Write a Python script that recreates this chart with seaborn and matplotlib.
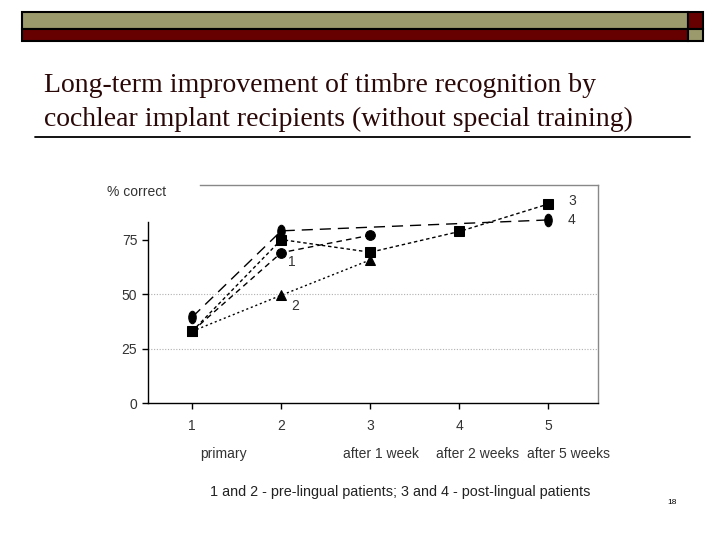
import matplotlib
matplotlib.use('Agg')
import matplotlib.pyplot as plt
import matplotlib.transforms as mtransforms
from matplotlib.patches import Rectangle
from matplotlib.path import Path
import seaborn as sns

# 시점 (측정 회차)
x_ticks = [1, 2, 3, 4, 5]
stage_labels = ['primary', 'after 1 week', 'after 2 weeks', 'after 5 weeks']
stage_pos = [1.35, 3.12, 4.2, 5.23]

# 환자별 정답률 (% correct)
p1_x = [1, 2, 3]
p1_y = [33, 69, 77]
p2_x = [1, 2, 3]
p2_y = [33, 49.5, 65.7]
p3_x = [1, 2, 3, 4, 5]
p3_y = [33, 75, 69.2, 78.7, 91.3]
p4_x = [1, 2, 5]
p4_y = [39.5, 79, 84]
patient_names = ['1', '2', '3', '4']

sns.set_style('white')
plt.rcParams['font.family'] = ['Liberation Sans', 'DejaVu Sans']

fig = plt.figure(figsize=(7.2, 5.4), dpi=100)

# 슬라이드 상단 장식 막대
W, H = 720.0, 540.0
def box(x0, y0, x1, y1, color):
    fig.patches.append(Rectangle((x0 / W, 1 - y1 / H), (x1 - x0) / W, (y1 - y0) / H,
                                 transform=fig.transFigure, facecolor=color,
                                 edgecolor='black', linewidth=1.5))
box(22, 12, 688, 29, '#9b9a6c')
box(22, 29, 688, 41, '#660000')
box(688, 12, 703, 29, '#660000')
box(688, 29, 703, 41, '#9b9a6c')

# 제목
title_lines = ['Long-term improvement of timbre recognition by',
               'cochlear implant recipients (without special training)']
for line, base in zip(title_lines, [92, 126]):
    fig.text(44 / W, 1 - base / H, line, family='Liberation Serif', fontsize=20,
             color='#2a0808', ha='left', va='baseline')
fig.add_artist(plt.Line2D([35 / W, 690 / W], [1 - 137 / H, 1 - 137 / H],
                          transform=fig.transFigure, color='black', linewidth=1.3))

ax = fig.add_axes([147.7 / W, 1 - 403.3 / H, 450.6 / W, 218.3 / H])

ellipse = Path.unit_circle()
ellipse = Path(ellipse.vertices * [0.6, 1.0], ellipse.codes)

sns.lineplot(x=p2_x, y=p2_y, ax=ax, color='black', marker='^', markersize=7,
             linestyle=(0, (1.5, 2)), linewidth=1, markeredgecolor='black')
sns.lineplot(x=p1_x, y=p1_y, ax=ax, color='black', marker='o', markersize=7,
             linestyle=(0, (4, 3)), linewidth=1, markeredgecolor='black')
sns.lineplot(x=p4_x, y=p4_y, ax=ax, color='black', marker=ellipse, markersize=9,
             linestyle=(0, (8, 5)), linewidth=1, markeredgecolor='black')
sns.lineplot(x=p3_x, y=p3_y, ax=ax, color='black', marker='s', markersize=7,
             linestyle=(0, (2.5, 2)), linewidth=1, markeredgecolor='black')

ax.set_xlim(0.5, 5.56)
ax.set_ylim(0, 100)
ax.set_xticks(x_ticks)
ax.set_yticks([0, 25, 50, 75])
ax.tick_params(axis='both', direction='out', length=4, width=1, colors='black',
               labelsize=10, labelcolor='#333333', left=True, bottom=True)
ax.tick_params(axis='x', pad=7)
for yv in [25, 50]:
    ax.axhline(yv, color='#b0b0b0', linestyle=(0, (1, 1.5)), linewidth=0.8, zorder=0)

for side in ['top', 'right']:
    ax.spines[side].set_color('#888888')
    ax.spines[side].set_linewidth(1)
for side in ['left', 'bottom']:
    ax.spines[side].set_color('black')
    ax.spines[side].set_linewidth(1)
ax.spines['left'].set_bounds(0, 83)
ax.spines['top'].set_bounds(1.09, 5.56)

# 환자 번호 표시
label_pos = [(2.08, 64.5), (2.11, 44.4), (5.22, 92.8), (5.22, 84)]
for name, (lx, ly) in zip(patient_names, label_pos):
    ax.text(lx, ly, name, fontsize=10, color='#333333', ha='left', va='center')

ax.text(-0.09, 0.968, '% correct', transform=ax.transAxes, fontsize=10,
        color='#333333', ha='left', va='center')

trans = mtransforms.blended_transform_factory(ax.transData, ax.transAxes)
for pos, lab in zip(stage_pos, stage_labels):
    ax.text(pos, -0.232, lab, transform=trans, fontsize=10, color='#333333',
            ha='center', va='center')

fig.text(400 / W, 1 - 492 / H,
         '1 and 2 - pre-lingual patients; 3 and 4 - post-lingual patients',
         fontsize=10.4, color='#222222', ha='center', va='center')
fig.text(672 / W, 1 - 502 / H, '18', fontsize=6, color='black', ha='center', va='center')

fig.savefig('out.png', dpi=100)
